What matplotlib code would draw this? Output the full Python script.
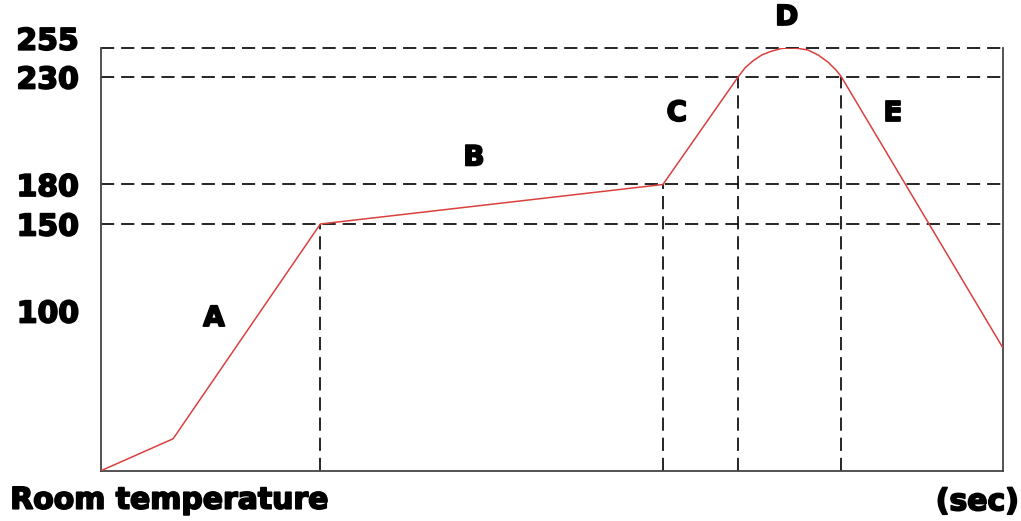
import matplotlib
matplotlib.use("Agg")
import matplotlib.pyplot as plt
import matplotlib.patheffects as pe
import matplotlib.transforms as mtrans
import numpy as np

# Reflow profile (time in seconds, temperature in deg C)
time_s = [0, 24, 73, 187, 212, 214.3, 216.9, 219.9, 223.3, 226.6, 229.3,
          232, 235.2, 238.6, 241.9, 244.6, 246.4, 300]
temp_c = [25, 40, 150, 180, 230, 237.8, 243.8, 249, 252.4, 254.6, 255,
          254.6, 253.3, 249, 242.9, 236, 230, 83]

# y axis is not linear in the picture: temperature -> position knots
scale_temp = [25, 100, 150, 180, 230, 255]
scale_pos = [0, 159.7, 246.7, 286.2, 393.7, 422.7]

tick_temps = [100, 150, 180, 230, 255]
grid_temps = [150, 180, 230, 255]
marker_times = [73, 187, 212, 246.4]
marker_temps = [150, 180, 230, 230]

phase_names = ["A", "B", "C", "D", "E"]
phase_x = [37.6, 124.1, 191.6, 228.2, 263.5]
phase_y = [96.7, 192.6, 213.3, 281.7, 213.3]


def _extend(xs, ys):
    xs = np.asarray(xs, float)
    ys = np.asarray(ys, float)
    lo = ys[0] - (ys[1] - ys[0]) / (xs[1] - xs[0]) * (xs[0] + 1000)
    hi = ys[-1] + (ys[-1] - ys[-2]) / (xs[-1] - xs[-2]) * (1000 - xs[-1])
    return np.r_[-1000, xs, 1000], np.r_[lo, ys, hi]


kt, kp = _extend(scale_temp, scale_pos)


def fwd(t):
    return np.interp(t, kt, kp)


def inv(p):
    return np.interp(p, kp, kt)


plt.rcParams["lines.scale_dashes"] = False
heavy = [pe.withStroke(linewidth=1.3, foreground="black")]
font = dict(family="DejaVu Sans", weight="bold", color="black")

fig = plt.figure(figsize=(10.21, 5.21), dpi=100)
ax = fig.add_axes([0.0989, 0.0965, 0.883, 0.8114])
ax.set_yscale("function", functions=(fwd, inv))
ax.set_xlim(0, 300)
ax.set_ylim(25, 255)

dash = (0, (9.5, 5))
for t in grid_temps:
    ax.axhline(t, color="black", lw=1.2, ls=dash, zorder=1, clip_on=False)
for x, t in zip(marker_times, marker_temps):
    ax.plot([x, x], [25, t], color="black", lw=1.2, ls=dash, zorder=1)

ax.plot(time_s, temp_c, color="#d9413f", lw=1.1, zorder=3)

for name, x, y in zip(phase_names, phase_x, phase_y):
    ax.text(x, y, name, ha="center", va="center", fontsize=20,
            clip_on=False, path_effects=heavy, **font)

ax.set_yticks(tick_temps)
ax.set_yticklabels([str(t) for t in tick_temps], fontsize=21.5, **font)
ax.tick_params(axis="y", length=0, pad=16)
ax.set_xticks([])
ax.yaxis.set_minor_locator(matplotlib.ticker.NullLocator())
for lab in ax.get_yticklabels():
    lab.set_path_effects(heavy)
    if lab.get_text() == "255":
        lab.set_transform(lab.get_transform() +
                          mtrans.ScaledTranslation(0, 7 / 72, fig.dpi_scale_trans))

ax.spines["top"].set_visible(False)
for s in ["left", "right", "bottom"]:
    ax.spines[s].set_color("#444444")
    ax.spines[s].set_linewidth(1.3)

fig.text(0.01, 0.04, "Room temperature", ha="left", va="center",
         fontsize=21.5, path_effects=heavy, **font)
fig.text(0.998, 0.037, "(sec)", ha="right", va="center", fontsize=21.5,
         path_effects=heavy, **font)

fig.savefig("out.png", dpi=100)
